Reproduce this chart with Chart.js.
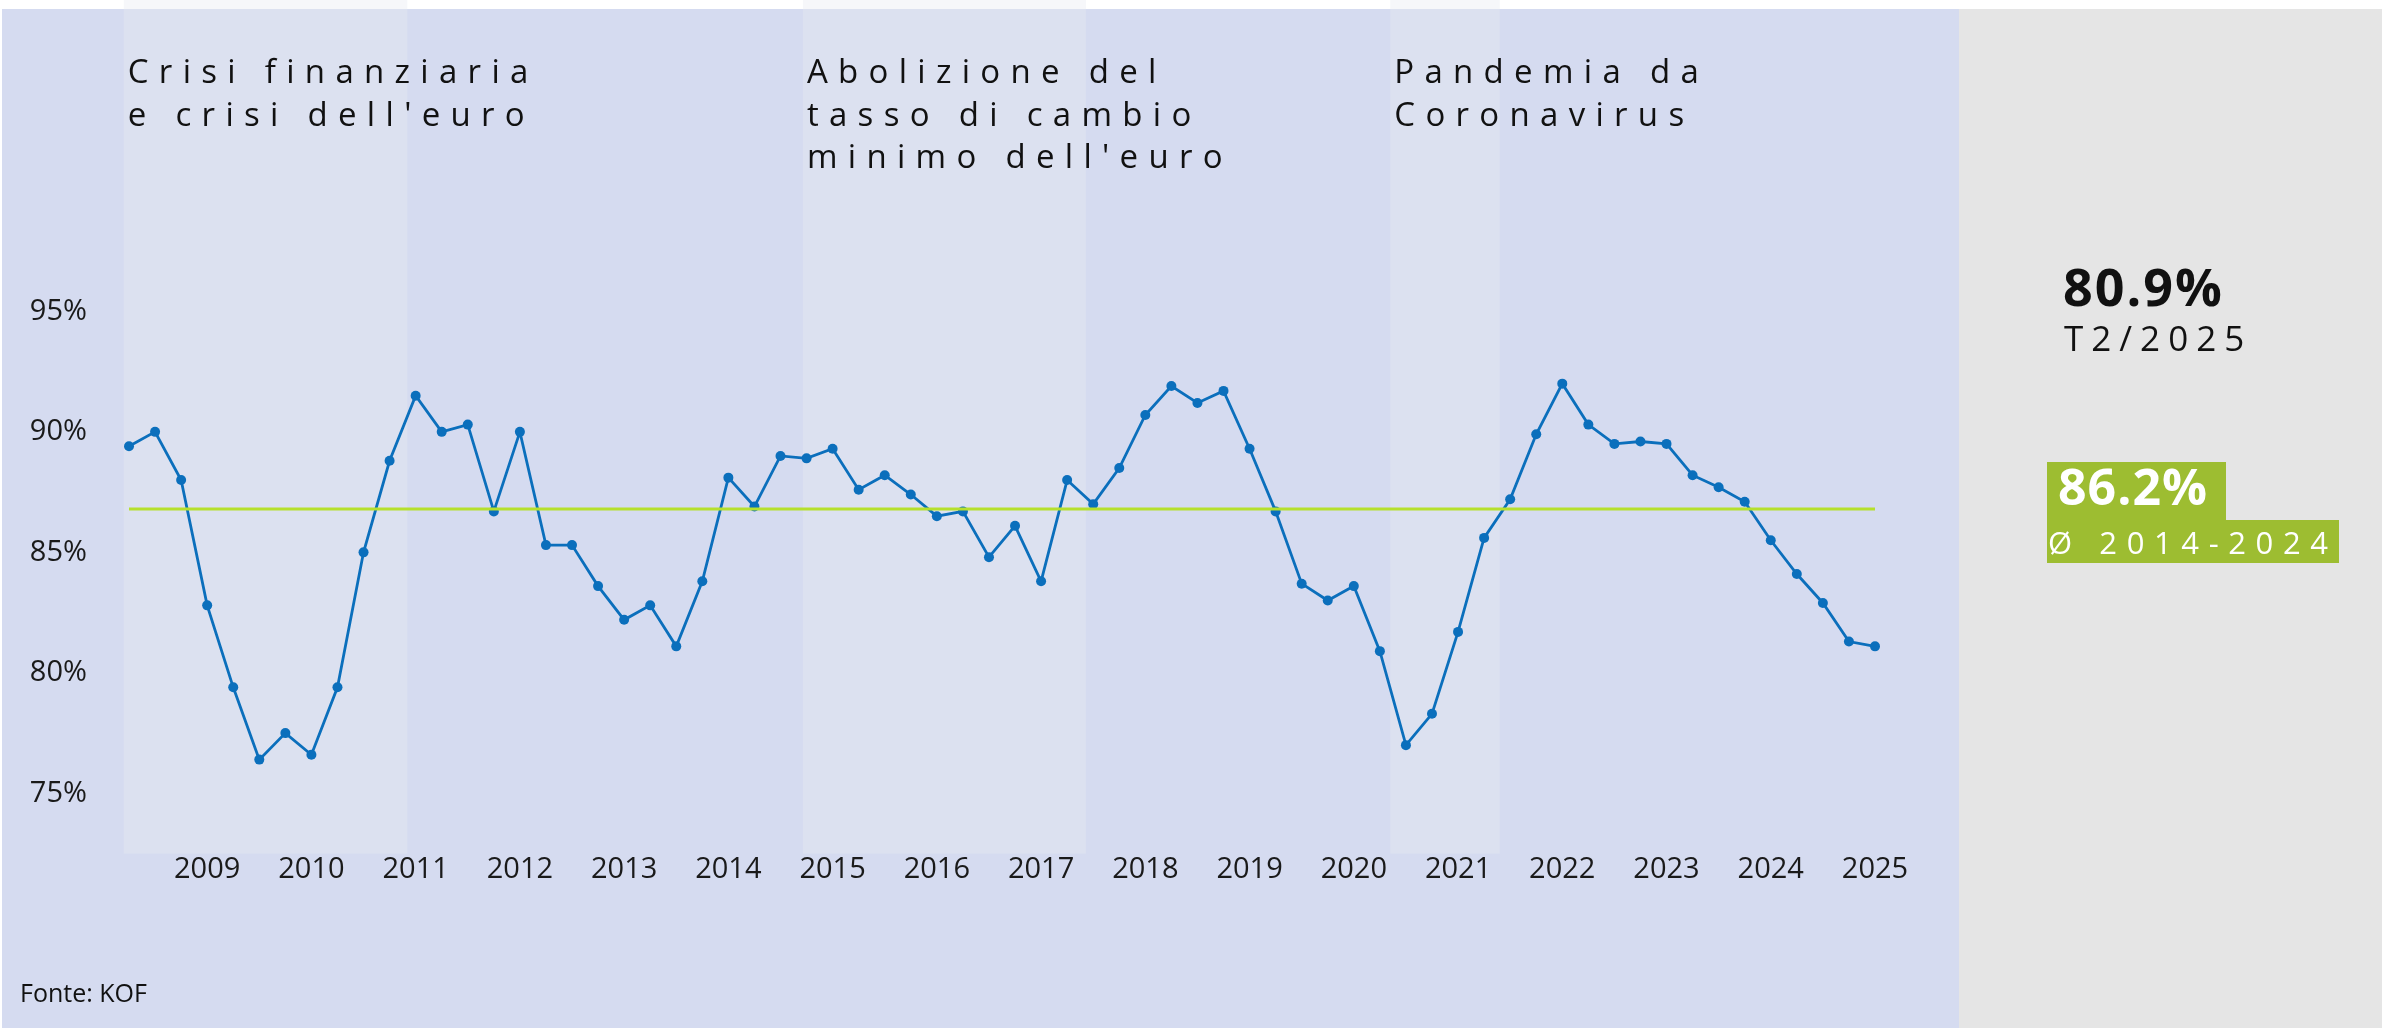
<!DOCTYPE html>
<html>
<head>
<meta charset="utf-8">
<script src="https://cdn.jsdelivr.net/npm/chart.js@4.4.1/dist/chart.umd.min.js"></script>
<style>
  html, body { margin: 0; padding: 0; background: #fff; }
  #wrap { position: relative; width: 2382px; height: 1028px; }
</style>
</head>
<body>
<div id="wrap"><canvas id="kofChart" width="2382" height="1028"></canvas></div>
<script>
// capacity utilisation, quarterly, 2008 T3 .. 2025 T2
const firstYear = 2008;
const firstQuarter = 3;
const utilisation = [
  89.4, 90.0, 88.0, 82.8, 79.4, 76.4, 77.5, 76.6, 79.4, 85.0,
  88.8, 91.5, 90.0, 90.3, 86.7, 90.0, 85.3, 85.3, 83.6, 82.2,
  82.8, 81.1, 83.8, 88.1, 86.9, 89.0, 88.9, 89.3, 87.6, 88.2,
  87.4, 86.5, 86.7, 84.8, 86.1, 83.8, 88.0, 87.0, 88.5, 90.7,
  91.9, 91.2, 91.7, 89.3, 86.7, 83.7, 83.0, 83.6, 80.9, 77.0,
  78.3, 81.7, 85.6, 87.2, 89.9, 92.0, 90.3, 89.5, 89.6, 89.5,
  88.2, 87.7, 87.1, 85.5, 84.1, 82.9, 81.3, 81.1
];
const averageLevel = 86.8;
const yTicks = [75, 80, 85, 90, 95];

// shaded periods (decimal years) and their captions
const bandStarts = [2008.45, 2014.965, 2020.6];
const bandEnds = [2011.17, 2017.68, 2021.65];
const bandCaptions = [
  ['Crisi finanziaria', "e crisi dell'euro"],
  ['Abolizione del', 'tasso di cambio', "minimo dell'euro"],
  ['Pandemia da', 'Coronavirus']
];

const lastValueText = '80.9%';
const lastPeriodText = 'T2/2025';
const averageText = '86.2%';
const averagePeriodText = 'Ø 2014-2024';
const sourceText = 'Fonte: KOF';

const W = 2382, H = 1028;
const FONT = '"Open Sans", "Noto Sans", sans-serif';

// category labels like "2009 T2"
const quarters = utilisation.map((v, i) => {
  const q = firstQuarter - 1 + i;
  return (firstYear + Math.floor(q / 4)) + ' T' + (q % 4 + 1);
});
const toIndex = (year) => (year - (firstYear + (firstQuarter - 1) / 4)) * 4;

const backdrop = {
  id: 'backdrop',
  beforeDraw(chart) {
    const ctx = chart.ctx;
    const xs = chart.scales.x;
    const area = chart.chartArea;
    ctx.save();
    ctx.fillStyle = '#ffffff';
    ctx.fillRect(0, 0, W, H);
    ctx.fillStyle = '#d5dbf0';
    ctx.fillRect(2, 9, 1957, H - 9);
    ctx.fillStyle = '#e5e5e5';
    ctx.fillRect(1959, 9, W - 1959, H - 9);
    bandStarts.forEach((s, i) => {
      const x0 = xs.getPixelForValue(toIndex(s));
      const x1 = xs.getPixelForValue(toIndex(bandEnds[i]));
      ctx.fillStyle = '#f6f7fa';
      ctx.fillRect(x0, 0, x1 - x0, 9);
      ctx.fillStyle = '#dce1f0';
      ctx.fillRect(x0, 9, x1 - x0, area.bottom - 9);
    });
    ctx.restore();
  },
  afterDraw(chart) {
    const ctx = chart.ctx;
    const xs = chart.scales.x;
    ctx.save();
    ctx.textBaseline = 'alphabetic';
    ctx.textAlign = 'left';

    // period captions
    ctx.fillStyle = '#111111';
    ctx.font = '33px ' + FONT;
    ctx.letterSpacing = '10.3px';
    bandStarts.forEach((s, i) => {
      const x0 = xs.getPixelForValue(toIndex(s)) + 4;
      bandCaptions[i].forEach((line, j) => ctx.fillText(line, x0, 83 + j * 42.5));
    });

    // last value
    ctx.font = 'bold 52px ' + FONT;
    ctx.letterSpacing = '2px';
    ctx.fillText(lastValueText, 2063, 306);
    ctx.font = '35px ' + FONT;
    ctx.letterSpacing = '8px';
    ctx.fillText(lastPeriodText, 2064, 351);

    // average box
    ctx.fillStyle = '#9dbd31';
    ctx.fillRect(2047, 462, 179, 58);
    ctx.fillRect(2047, 520, 292, 43);
    ctx.fillStyle = '#ffffff';
    ctx.font = 'bold 50px ' + FONT;
    ctx.letterSpacing = '1px';
    ctx.fillText(averageText, 2058, 505);
    ctx.font = '31px ' + FONT;
    ctx.letterSpacing = '9.6px';
    ctx.fillText(averagePeriodText, 2048, 554);

    // source
    ctx.fillStyle = '#111111';
    ctx.font = '25px ' + FONT;
    ctx.letterSpacing = '0px';
    ctx.fillText(sourceText, 20, 1002);
    ctx.restore();
  }
};

new Chart(document.getElementById('kofChart'), {
  type: 'line',
  data: {
    labels: quarters,
    datasets: [
      {
        label: 'Ø 2014-2024',
        data: quarters.map(() => averageLevel),
        borderColor: '#b6e02c',
        borderWidth: 3,
        pointRadius: 0,
        order: 0
      },
      {
        label: 'Utilizzo della capacità',
        data: utilisation,
        borderColor: '#0b6fbc',
        backgroundColor: '#0b6fbc',
        borderWidth: 2.8,
        pointRadius: 5,
        pointBorderWidth: 0,
        pointBackgroundColor: '#0b6fbc',
        tension: 0,
        order: 1
      }
    ]
  },
  options: {
    responsive: false,
    devicePixelRatio: 1,
    animation: false,
    events: [],
    layout: { padding: { top: 190.85, bottom: 114.4, left: 0, right: 507 } },
    plugins: { legend: { display: false }, tooltip: { enabled: false } },
    scales: {
      x: {
        type: 'category',
        offset: false,
        grid: { display: false, drawTicks: false },
        border: { display: false },
        ticks: {
          autoSkip: false,
          maxRotation: 0,
          padding: -1,
          color: '#1a1a1a',
          font: { family: FONT, size: 29 },
          callback: (v, i) => quarters[i].endsWith('T2') ? quarters[i].slice(0, 4) : ''
        },
        afterFit: (s) => { s.height = 60; s.paddingLeft = 0; s.paddingRight = 0; }
      },
      y: {
        min: 72.5,
        max: 100,
        grid: { display: false, drawTicks: false },
        border: { display: false },
        afterBuildTicks: (s) => { s.ticks = yTicks.map(v => ({ value: v })); },
        ticks: {
          padding: 42,
          color: '#1a1a1a',
          font: { family: FONT, size: 29 },
          callback: (v) => v + '%'
        },
        afterFit: (s) => { s.width = 129; s.paddingTop = 0; s.paddingBottom = 0; }
      }
    }
  },
  plugins: [backdrop]
});
</script>
</body>
</html>
